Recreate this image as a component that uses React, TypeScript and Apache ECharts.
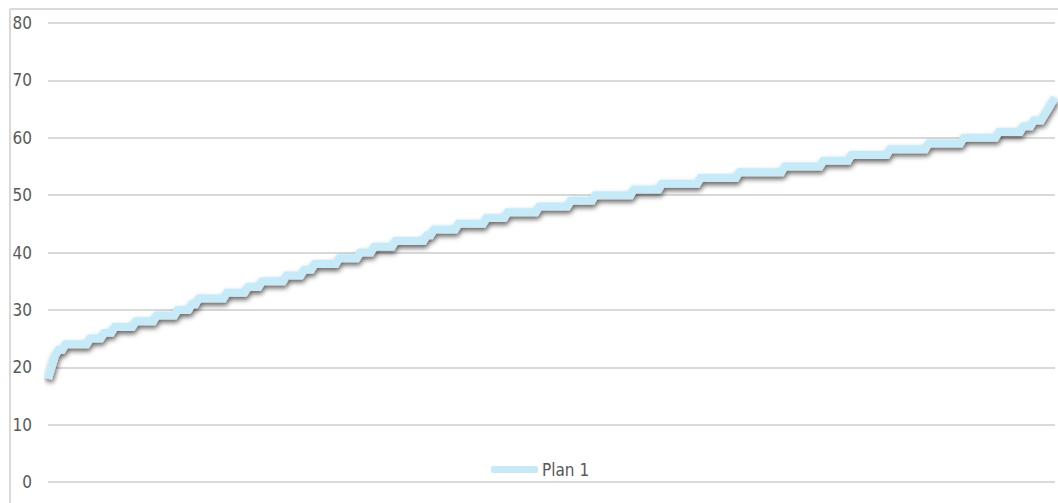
import React, { useEffect, useRef } from "react";
import * as echarts from "echarts";

// Sorted values (ages) shown as runs: each level and how many points share it
const levels = [18, 20, 22, 23, 24, 25, 26, 27, 28, 29, 30, 31, 32, 33, 34, 35, 36, 37, 38, 39, 40, 41, 42, 43, 44, 45, 46, 47, 48, 49, 50, 51, 52, 53, 54, 55, 56, 57, 58, 59, 60, 61, 62, 63, 64, 65, 66, 67];
const counts = [1, 1, 1, 2, 7, 4, 3, 6, 6, 6, 4, 2, 8, 6, 4, 7, 5, 3, 7, 6, 4, 6, 9, 2, 7, 8, 6, 9, 9, 7, 11, 8, 11, 11, 13, 11, 8, 11, 11, 10, 10, 7, 3, 3, 1, 1, 1, 1];
const seriesName = "Plan 1";
const yTicks = { min: 0, max: 80, interval: 10 };

const values: number[] = [];
levels.forEach((lv, i) => {
  for (let k = 0; k < counts[i]; k++) values.push(lv);
});
const categories = values.map((_, i) => String(i + 1));

const FONT = "'Liberation Sans Narrow', 'DejaVu Sans Condensed', 'Roboto', sans-serif";

export default function App() {
  const ref = useRef<HTMLDivElement>(null);
  useEffect(() => {
    if (!ref.current) return;
    const chart = echarts.init(ref.current, null, { renderer: "svg" });
    chart.setOption({
      animation: false,
      backgroundColor: "#ffffff",
      grid: { left: 48, right: 3, top: 23, bottom: 21, containLabel: false },
      xAxis: {
        type: "category",
        data: categories,
        boundaryGap: false,
        axisLine: { show: false },
        axisTick: { show: false },
        axisLabel: { show: false },
        splitLine: { show: false },
      },
      yAxis: {
        type: "value",
        min: yTicks.min,
        max: yTicks.max,
        interval: yTicks.interval,
        axisLine: { show: false },
        axisTick: { show: false },
        axisLabel: { color: "#595959", fontSize: 17, fontFamily: FONT, margin: 16 },
        splitLine: { lineStyle: { color: "#d9d9d9", width: 2 } },
      },
      legend: {
        data: [seriesName],
        left: 491,
        top: 461,
        padding: 0,
        icon: "roundRect",
        itemWidth: 47,
        itemHeight: 7,
        itemGap: 10,
        textStyle: { color: "#595959", fontSize: 17, fontFamily: FONT, padding: [0, 0, 0, -1] },
        itemStyle: { color: "#c6eaf8", shadowBlur: 0, shadowOffsetX: 0, shadowOffsetY: 0 },
      },
      graphic: [
        { type: "line", shape: { x1: 10, y1: 9, x2: 1058, y2: 9 }, style: { stroke: "#d9d9d9", lineWidth: 2 }, silent: true },
        { type: "line", shape: { x1: 10, y1: 9, x2: 10, y2: 503 }, style: { stroke: "#d9d9d9", lineWidth: 2 }, silent: true },
      ],
      series: [
        {
          name: seriesName,
          type: "line",
          data: values,
          showSymbol: false,
          symbol: "none",
          color: "#c6eaf8",
          lineStyle: {
            color: "#c6eaf8",
            width: 8,
            cap: "butt",
            join: "miter",
            shadowColor: "rgba(0,0,0,0.6)",
            shadowBlur: 5,
            shadowOffsetX: 1,
            shadowOffsetY: 3,
          },
        },
      ],
    });
    return () => chart.dispose();
  }, []);
  return (
    <div
      ref={ref}
      style={{ position: "fixed", left: 0, top: 0, width: 1058, height: 503, background: "#fff" }}
    />
  );
}
